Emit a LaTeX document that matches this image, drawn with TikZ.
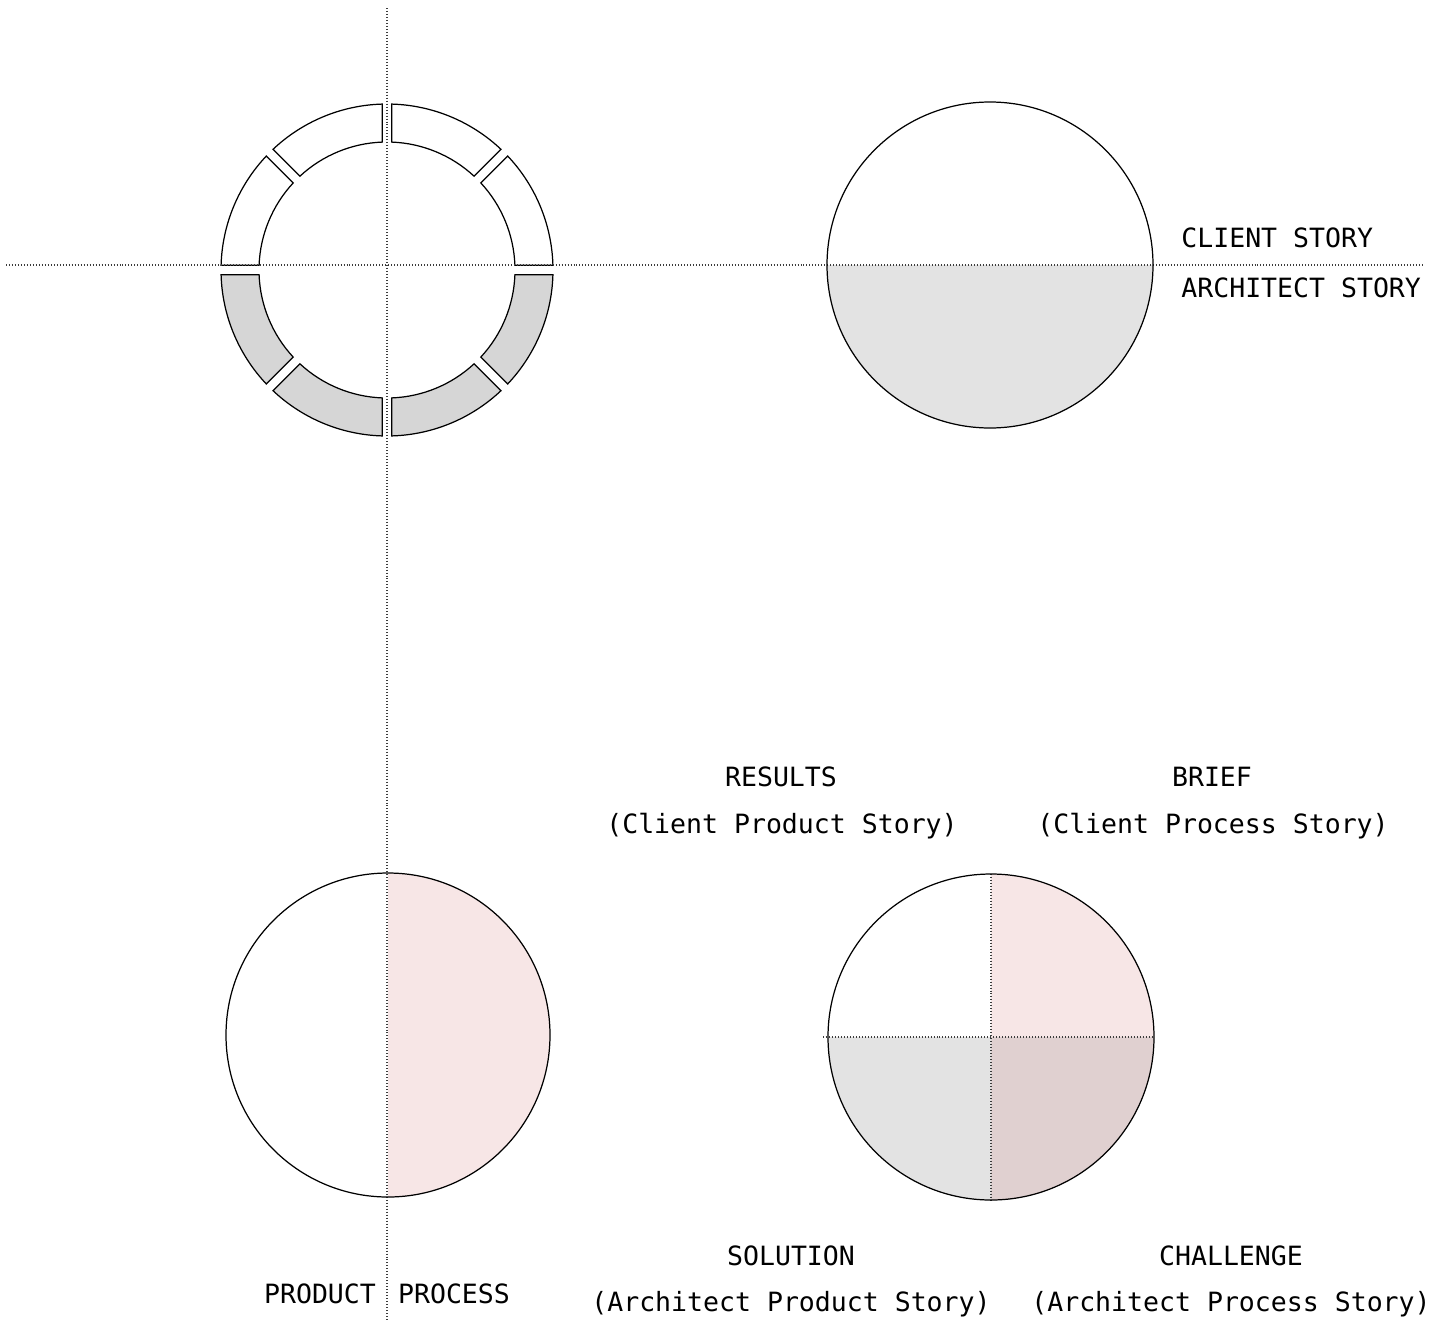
\documentclass[tikz,border=0pt]{standalone}
\usepackage{fontspec}
\setmainfont{DejaVu Sans Mono}
\definecolor{ringgray}{RGB}{214,214,214}
\definecolor{halfgray}{RGB}{227,227,227}
\definecolor{pinkfill}{RGB}{247,230,230}
\definecolor{mauvefill}{RGB}{224,208,208}
\definecolor{dotcol}{RGB}{60,60,60}
\tikzset{
  guide/.style={draw=dotcol, line width=0.7pt, dash pattern=on 0.57pt off 1.13pt},
  outline/.style={draw=black, line width=0.7pt},
  lbl/.style={inner sep=0pt, font=\fontsize{15.1pt}{18pt}\selectfont},
}
\begin{document}
\begin{tikzpicture}[x=0.02cm, y=-0.02cm]
\useasboundingbox[fill=white] (0,0) rectangle (1450,1322);

% ---------- ring (top left) ----------
\begin{scope}[shift={(387,270)}]
\foreach \k in {0,...,7}{
  \pgfmathsetmacro\a{45*\k}
  \pgfmathsetmacro\ao{\a+1.64}
  \pgfmathsetmacro\bo{\a+45-1.64}
  \pgfmathsetmacro\ai{\a+2.13}
  \pgfmathsetmacro\bi{\a+45-2.13}
  \ifnum\k<4 \def\fc{ringgray}\else\def\fc{white}\fi
  \path[outline, fill=\fc] (\ao:166) arc[start angle=\ao, end angle=\bo, radius=166]
     -- (\bi:128) arc[start angle=\bi, end angle=\ai, radius=128] -- cycle;
}
\end{scope}

% ---------- top right circle ----------
\coordinate (c2) at (990,265);
\fill[halfgray] (827,265) arc[start angle=180, end angle=0, radius=163] -- cycle;

% ---------- bottom left circle ----------
\coordinate (c3) at (388,1035);
\fill[pinkfill] (388,873) arc[start angle=-90, end angle=90, radius=162] -- cycle;

% ---------- bottom right circle ----------
\coordinate (c4) at (991,1037);
\fill[pinkfill] (c4) -- ++(163,0) arc[start angle=0, end angle=-90, radius=163] -- cycle;
\fill[mauvefill] (c4) -- ++(163,0) arc[start angle=0, end angle=90, radius=163] -- cycle;
\fill[halfgray] (c4) -- ++(-163,0) arc[start angle=180, end angle=90, radius=163] -- cycle;

% ---------- guide lines ----------
\coordinate (hL) at (6,265);
\coordinate (hR) at (1422,265);
\coordinate (vT) at (387,8);
\coordinate (vB) at (387,1322);
\path[guide] (hL) -- (hR);
\path[guide] (vT) -- (vB);
\coordinate (qL) at (823,1037);
\coordinate (qR) at (1154,1037);
\coordinate (qT) at (991,874);
\coordinate (qB) at (991,1200);
\path[guide] (qL) -- (qR);
\path[guide] (qT) -- (qB);

% ---------- outlines ----------
\path[outline] (c2) circle[radius=163];
\path[outline] (c3) circle[radius=162];
\path[outline] (c4) circle[radius=163];

% ---------- labels ----------
\node[lbl, anchor=west] (client) at (1181,238) {CLIENT STORY};
\node[lbl, anchor=west] (architect) at (1181,288) {ARCHITECT STORY};

\node[lbl] (results) at (781,777) {RESULTS};
\node[lbl] (resultsb) at (782,826) {(Client Product Story)};
\node[lbl] (brief) at (1212,777) {BRIEF};
\node[lbl] (briefb) at (1213,826) {(Client Process Story)};

\node[lbl] (solution) at (791,1256) {SOLUTION};
\node[lbl] (solutionb) at (791,1304) {(Architect Product Story)};
\node[lbl] (challenge) at (1231,1256) {CHALLENGE};
\node[lbl] (challengeb) at (1231,1304) {(Architect Process Story)};

\node[lbl] (product) at (320,1294) {PRODUCT};
\node[lbl] (process) at (454,1294) {PROCESS};
\end{tikzpicture}
\end{document}
